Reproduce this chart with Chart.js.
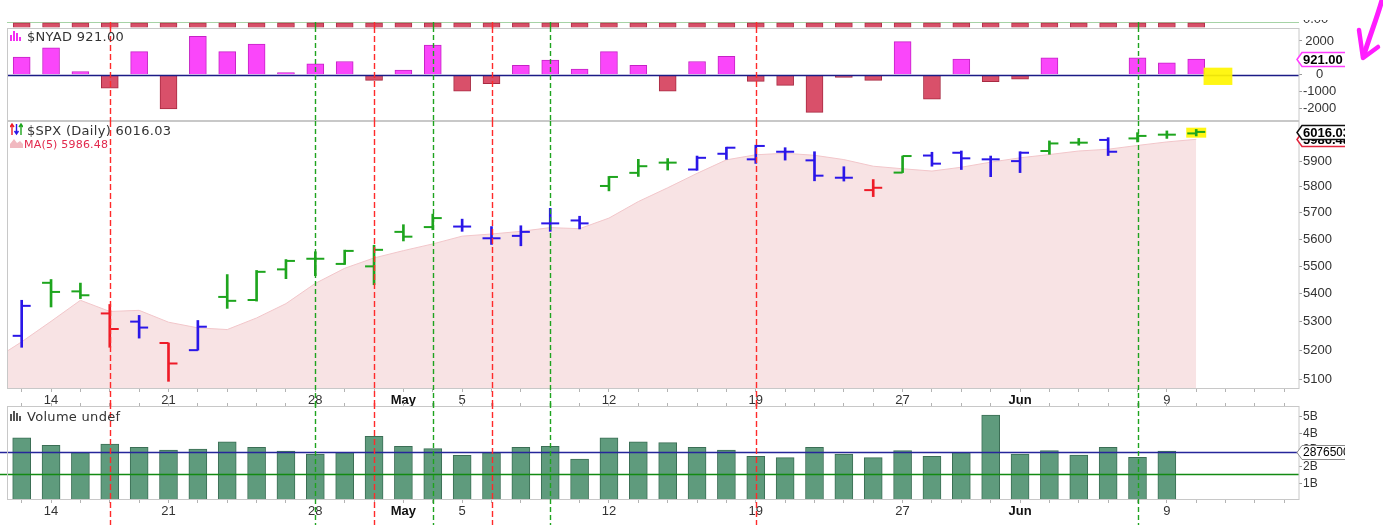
<!DOCTYPE html>
<html>
<head>
<meta charset="utf-8">
<title>$SPX (Daily) with $NYAD and Volume</title>
<script src="https://cdn.jsdelivr.net/npm/chart.js@4.4.1/dist/chart.umd.min.js"></script>
<style>
html, body { margin: 0; padding: 0; background: #fff; }
#page { position: relative; width: 1383px; height: 525px; overflow: hidden; background: #fff; }
#page canvas { position: absolute; left: 0; }
.legend { position: absolute; left: 27px; font: 13px "DejaVu Sans", Verdana, sans-serif; letter-spacing: 0.3px; color: #333; white-space: nowrap; line-height: 15px; }
.icon { position: absolute; }
</style>
</head>
<body>
<div id="page">
  <canvas id="upperChart" width="1345" height="6" style="top:22px"></canvas>
  <canvas id="nyadChart" width="1345" height="95" style="top:27px"></canvas>
  <canvas id="spxChart" width="1345" height="286" style="top:121px"></canvas>
  <canvas id="volChart" width="1345" height="122" style="top:403px"></canvas>

  <!-- clipped label of the panel above -->
  <div style="position:absolute;left:1303px;top:20px;width:42px;height:5px;overflow:hidden">
    <div style="position:absolute;top:-9px;font:13px 'Liberation Sans',Arial,sans-serif;color:#333">0.00</div>
  </div>

  <svg class="icon" style="left:10px;top:31px" width="11" height="10">
    <rect x="0" y="4" width="2" height="6" fill="#f22ef2"/>
    <rect x="3" y="0" width="2" height="10" fill="#f22ef2"/>
    <rect x="6" y="2" width="2" height="8" fill="#f22ef2"/>
    <rect x="9" y="6" width="2" height="4" fill="#f22ef2"/>
  </svg>
  <div class="legend" style="top:29px">$NYAD 921.00</div>

  <svg class="icon" style="left:10px;top:123px" width="13" height="13">
    <path d="M2 12 V2 M0 4 L2 1 L4 4" stroke="#ee1b27" stroke-width="1.4" fill="none"/>
    <path d="M6.5 1 V11 M4.5 8 L6.5 11 L8.5 8" stroke="#2a16e8" stroke-width="1.4" fill="none"/>
    <path d="M11 12 V2 M9 4 L11 1 L13 4" stroke="#1ea51e" stroke-width="1.4" fill="none"/>
  </svg>
  <div class="legend" style="top:123px">$SPX (Daily) 6016.03</div>

  <svg class="icon" style="left:10px;top:138px" width="13" height="10">
    <path d="M0 10 L0 6 L4 1 L7 5 L10 3 L13 6 L13 10 Z" fill="#f1b9c0"/>
  </svg>
  <div class="legend" style="left:24px;top:137px;font-size:11px;letter-spacing:0.2px;color:#e2284c">MA(5) 5986.48</div>

  <svg class="icon" style="left:10px;top:411px" width="11" height="10">
    <rect x="0" y="3" width="2" height="7" fill="#555"/>
    <rect x="3" y="0" width="2" height="10" fill="#555"/>
    <rect x="6" y="2" width="2" height="8" fill="#555"/>
    <rect x="9" y="5" width="2" height="5" fill="#555"/>
  </svg>
  <div class="legend" style="top:409px">Volume undef</div>

  <svg style="position:absolute;left:0;top:0" width="1383" height="525">
    <path d="M1382 0 C1377 18 1369 38 1364 55" stroke="#ff1cff" stroke-width="5" fill="none" stroke-linecap="round"/>
    <path d="M1359 30 L1363 58 L1378 47" stroke="#ff1cff" stroke-width="4.5" fill="none" stroke-linejoin="round" stroke-linecap="round"/>
  </svg>
</div>

<script>
// sessions shown, 11 Apr .. 10 Jun 2025
const sessions = ['Apr 11','Apr 14','Apr 15','Apr 16','Apr 17','Apr 21','Apr 22','Apr 23','Apr 24','Apr 25',
  'Apr 28','Apr 29','Apr 30','May 1','May 2','May 5','May 6','May 7','May 8','May 9',
  'May 12','May 13','May 14','May 15','May 16','May 19','May 20','May 21','May 22','May 23',
  'May 27','May 28','May 29','May 30','Jun 2','Jun 3','Jun 4','Jun 5','Jun 6','Jun 9','Jun 10'];

// $SPX daily OHLC
const opens  = [5251,5440,5409,5330,5301,5226,5201,5389,5378,5489,5528,5509,5500,5628,5646,5648,5604,5613,5660,5671,
  5803,5854,5894,5867,5929,5907,5937,5903,5835,5787,5855,5922,5933,5907,5900,5940,5973,5984,5990,6005,6010];
const highs  = [5377,5452,5439,5362,5323,5226,5305,5470,5485,5525,5554,5560,5578,5655,5695,5676,5648,5651,5717,5687,
  5840,5907,5910,5920,5955,5963,5953,5937,5878,5828,5920,5935,5940,5920,5937,5980,5990,5993,6013,6020,6026];
const lows   = [5211,5353,5383,5211,5243,5094,5201,5348,5374,5455,5466,5507,5433,5594,5636,5630,5581,5576,5630,5639,
  5784,5840,5865,5864,5907,5891,5904,5823,5822,5762,5855,5880,5867,5839,5855,5927,5963,5922,5976,5990,6000];
const closes = [5357,5407,5395,5275,5280,5155,5283,5375,5480,5520,5528,5557,5561,5610,5680,5648,5604,5628,5660,5660,
  5838,5880,5894,5913,5953,5960,5937,5843,5835,5796,5920,5890,5911,5907,5933,5970,5973,5937,6000,6005,6016.03];
// bar colouring (g = green, b = blue, r = red)
const barTone = ['b','g','g','r','b','r','b','g','g','g','g','g','g','g','g','b','b','b','b','b',
  'g','g','g','b','b','b','b','b','b','r','g','b','b','b','b','g','g','b','g','g','g'];

// MA(5), first value belongs to the session before the window
const ma5 = [5165,5230,5302,5377,5337,5341,5299,5279,5273,5314,5365,5438,5493,5531,5558,5583,5612,5620,5630,5644,5640,
  5680,5743,5796,5852,5905,5925,5931,5923,5906,5880,5870,5861,5876,5896,5913,5926,5940,5947,5962,5976,5986.48];

// $NYAD (advance - decline), no bar on Jun 4 / Jun 5
const nyad = [1050,1590,190,-800,1370,-2040,2280,1370,1820,130,640,780,-340,270,1750,-980,-540,560,860,330,
  1370,560,-980,780,1090,-400,-640,-2240,-170,-340,1960,-1450,920,-420,-270,1000,null,null,1000,700,921];

// volume in billions (no bar yet for the last session)
const volume = [3.75,3.29,2.85,3.37,3.17,3.01,3.07,3.51,3.17,2.95,2.77,2.85,3.84,3.23,3.09,2.69,2.85,3.17,3.23,2.47,
  3.75,3.51,3.45,3.17,3.01,2.63,2.55,3.17,2.77,2.55,2.97,2.63,2.85,5.12,2.77,2.97,2.71,3.17,2.57,2.95];
const volAverage = 2.8765;
const volLower = 1.55;

// clipped indicator strip at the very top
const upperPanel = [1,1,1,1,1,1,1,1,1,1,1,1,1,1,1,1,1,1,1,1,1,1,1,1,1,1,1,1,1,1,1,1,1,1,1,1,1,1,1,1,1];

// axis ticks
const priceTicks = [5100,5200,5300,5400,5500,5600,5700,5800,5900,6000];
const nyadTicks = [-2000,-1000,0,1000,2000];
const volTicks = [1,2,3,4,5];
const tickIdx  = [1,5,10,13,15,20,25,30,34,39];
const tickText = ['14','21','28','May','5','12','19','27','Jun','9'];

// hand drawn marker lines
const eventIdx  = [3,10,12,14,16,18,25,38];
const eventKind = ['r','g','r','g','r','g','r','g'];

const TONES = { g: '#1ea51e', b: '#2a16e8', r: '#ee1b27' };
const TICK_OFF = 0.153;   // open / close tick offset, in bar slots
const AXIS_W = 46;
const FONT = '"Liberation Sans", Arial, sans-serif';

Chart.defaults.font.family = FONT;
Chart.defaults.font.size = 13;
Chart.defaults.color = '#333';
Chart.defaults.animation = false;
Chart.defaults.events = [];
Chart.defaults.layout.autoPadding = false;
Chart.defaults.plugins.legend.display = false;
Chart.defaults.plugins.tooltip.enabled = false;

function slotTicks(scale) {
    const t = [];
    for (let i = 0; i <= 43; i++) t.push({ value: i });
    scale.ticks = t;
}

function dayAxis(display, position, showLabels, height) {
    return {
        type: 'linear', min: -0.5, max: 43.5, bounds: 'data', offset: false,
        display: display, position: position,
        afterBuildTicks: slotTicks,
        afterFit: function (s) { s.height = height; s.paddingLeft = 0; s.paddingRight = 0; },
        grid: { drawOnChartArea: false, drawTicks: true, tickLength: 3, color: '#b4b4b4', offset: false },
        border: { display: false },
        ticks: {
            display: showLabels, autoSkip: false, maxRotation: 0, minRotation: 0, padding: 1,
            callback: function (v) { const k = tickIdx.indexOf(v); return k < 0 ? '' : tickText[k]; },
            font: function (c) {
                const month = c.tick && /[A-Za-z]/.test(c.tick.label);
                return { family: FONT, size: 13, weight: month ? 'bold' : 'normal' };
            },
            color: function (c) { return (c.tick && /[A-Za-z]/.test(c.tick.label)) ? '#111' : '#333'; }
        }
    };
}

function rightAxis(extra) {
    return Object.assign({
        position: 'right', bounds: 'data', beginAtZero: false,
        afterFit: function (s) { s.width = AXIS_W; s.paddingTop = 0; s.paddingBottom = 0; },
        grid: { drawOnChartArea: false, drawTicks: true, tickLength: 3, color: '#9a9a9a' },
        border: { display: false }
    }, extra);
}

// panel frame
const frame = {
    id: 'frame',
    afterDraw(chart) {
        const a = chart.chartArea, ctx = chart.ctx;
        const l = Math.round(a.left) + 0.5, t = Math.round(a.top) + 0.5;
        ctx.save();
        ctx.strokeStyle = '#c8c8c8';
        ctx.lineWidth = 1;
        ctx.strokeRect(l, t, Math.round(a.right) - l, Math.round(a.bottom) - t - 0.5);
        ctx.restore();
    }
};

// horizontal reference lines
function levels(under, over) {
    function draw(chart, list) {
        const a = chart.chartArea, ctx = chart.ctx, ys = chart.scales.y;
        list.forEach(function (l) {
            const py = Math.round(ys.getPixelForValue(l.value)) + 0.5;
            ctx.save();
            ctx.strokeStyle = l.color;
            ctx.lineWidth = l.width;
            ctx.beginPath();
            ctx.moveTo(l.full ? 0 : a.left, py);
            ctx.lineTo(a.right, py);
            ctx.stroke();
            ctx.restore();
        });
    }
    return {
        id: 'levels',
        beforeDatasetsDraw(chart) { draw(chart, under); },
        afterDatasetsDraw(chart) { draw(chart, over); }
    };
}

// yellow marker boxes
function marks(boxes, before) {
    function draw(chart) {
        const ctx = chart.ctx, xs = chart.scales.x, ys = chart.scales.y;
        ctx.save();
        ctx.fillStyle = 'rgba(255,245,0,0.92)';
        boxes.forEach(function (b) {
            const x0 = xs.getPixelForValue(b[0]), x1 = xs.getPixelForValue(b[1]);
            const y0 = ys.getPixelForValue(b[2]), y1 = ys.getPixelForValue(b[3]);
            ctx.fillRect(x0, y0, x1 - x0, y1 - y0);
        });
        ctx.restore();
    }
    return before ? { id: 'marks', beforeDatasetsDraw: draw } : { id: 'marks', afterDatasetsDraw: draw };
}

// value tags on the right axis
function tags(list) {
    return {
        id: 'tags',
        afterDraw(chart) {
            const ctx = chart.ctx, a = chart.chartArea, ys = chart.scales.y;
            list.forEach(function (t) {
                const y = Math.round(ys.getPixelForValue(t.value)) + 0.5;
                const h = t.half, x0 = a.right - 2, x1 = a.right + 3, x2 = chart.width + 4;
                ctx.save();
                ctx.beginPath();
                ctx.moveTo(x0, y);
                ctx.lineTo(x1, y - h);
                ctx.lineTo(x2, y - h);
                ctx.lineTo(x2, y + h);
                ctx.lineTo(x1, y + h);
                ctx.closePath();
                ctx.fillStyle = '#fff';
                ctx.fill();
                ctx.strokeStyle = t.color;
                ctx.lineWidth = t.lw;
                ctx.stroke();
                ctx.fillStyle = '#000';
                ctx.font = t.font;
                ctx.textAlign = 'left';
                ctx.textBaseline = 'middle';
                ctx.fillText(t.text, a.right + 4, y + 0.5);
                ctx.restore();
            });
        }
    };
}

// dashed vertical marker lines through every panel
const eventLines = {
    id: 'eventLines',
    afterDraw(chart) {
        const ctx = chart.ctx, xs = chart.scales.x;
        ctx.save();
        ctx.lineWidth = 1.4;
        eventIdx.forEach(function (idx, k) {
            const px = Math.round(xs.getPixelForValue(idx)) + 0.5;
            const red = eventKind[k] === 'r';
            ctx.strokeStyle = red ? '#ff2a2a' : '#1ea31e';
            ctx.setLineDash(red ? [6, 3] : [5, 3]);
            ctx.beginPath();
            ctx.moveTo(px, 0);
            ctx.lineTo(px, chart.height);
            ctx.stroke();
        });
        ctx.restore();
    }
};

function hiddenX() {
    return { type: 'linear', min: -0.5, max: 43.5, bounds: 'data', offset: false, display: false };
}

// top strip (bottom edge of the panel above)
new Chart(document.getElementById('upperChart'), {
    type: 'bar',
    data: {
        datasets: [{
            data: upperPanel.map(function (v, i) { return { x: i, y: v }; }),
            backgroundColor: '#d84f67',
            borderColor: '#b0304a',
            borderWidth: 1,
            borderSkipped: false,
            barThickness: 17
        }]
    },
    options: {
        responsive: false,
        layout: { padding: { left: 7, right: AXIS_W, top: 0, bottom: 0.5 } },
        scales: {
            x: hiddenX(),
            y: { display: false, min: 0, max: 1.2 }
        }
    },
    plugins: [levels([{ value: 1.1, color: '#a6d3a6', width: 1 }], []), eventLines]
});

// $NYAD panel
new Chart(document.getElementById('nyadChart'), {
    type: 'bar',
    data: {
        datasets: [{
            data: nyad.map(function (v, i) { return { x: i, y: v }; }),
            backgroundColor: nyad.map(function (v) { return v < 0 ? '#d9506a' : '#fa46fa'; }),
            borderColor: nyad.map(function (v) { return v < 0 ? '#a82a42' : '#c522c5'; }),
            borderWidth: 1,
            barThickness: 17
        }]
    },
    options: {
        responsive: false,
        layout: { padding: { left: 7, top: 1, bottom: 1 } },
        scales: {
            x: hiddenX(),
            y: rightAxis({
                type: 'linear', min: -2750, max: 2770,
                afterBuildTicks: function (s) { s.ticks = nyadTicks.map(function (v) { return { value: v }; }); },
                ticks: { padding: 1, crossAlign: 'center', font: { size: 13 }, callback: function (v) { return String(v); } }
            })
        }
    },
    plugins: [frame,
        levels([], [{ value: 0, color: '#1b1b86', width: 1.5 }]),
        marks([[40.25, 41.23, 415, -611]], false),
        eventLines,
        tags([{ value: 921, text: '921.00', color: '#ff3cff', lw: 1.5, half: 7, font: 'bold 13px ' + FONT }])]
});

// $SPX price panel
const toneOf = barTone.map(function (t) { return TONES[t]; });
new Chart(document.getElementById('spxChart'), {
    type: 'bar',
    data: {
        datasets: [
            {
                type: 'bar',
                data: highs.map(function (h, i) { return { x: i, y: [lows[i], h] }; }),
                backgroundColor: toneOf,
                borderWidth: 0,
                barThickness: 2,
                order: 1
            },
            {
                type: 'scatter',
                data: opens.map(function (o, i) { return { x: i - TICK_OFF, y: o }; }),
                pointStyle: 'line',
                pointRadius: 4.5,
                pointBorderWidth: 2,
                pointBorderColor: toneOf,
                order: 0
            },
            {
                type: 'scatter',
                data: closes.map(function (c, i) { return { x: i + TICK_OFF, y: c }; }),
                pointStyle: 'line',
                pointRadius: 4.5,
                pointBorderWidth: 2,
                pointBorderColor: toneOf,
                order: 0
            },
            {
                type: 'line',
                data: ma5.map(function (v, i) { return { x: i - 1, y: v }; }),
                borderColor: '#f2c6ca',
                borderWidth: 1,
                backgroundColor: '#f8e3e4',
                fill: 'start',
                pointRadius: 0,
                tension: 0,
                order: 10
            }
        ]
    },
    options: {
        responsive: false,
        layout: { autoPadding: false, padding: { left: 7, top: 0 } },
        scales: {
            x: dayAxis(true, 'bottom', true, 18),
            y: rightAxis({
                type: 'logarithmic', min: 5068, max: 6060,
                afterBuildTicks: function (s) { s.ticks = priceTicks.map(function (v) { return { value: v }; }); },
                ticks: { padding: 1, crossAlign: 'near', font: { size: 13 }, callback: function (v) { return String(v); } }
            })
        }
    },
    plugins: [frame,
        marks([[39.66, 40.34, 6033, 5993]], true),
        eventLines,
        tags([
            { value: 5986.48, text: '5986.48', color: '#e2243c', lw: 1.5, half: 7, font: 'bold 13px ' + FONT },
            { value: 6016.03, text: '6016.03', color: '#111', lw: 1.5, half: 7, font: 'bold 13px ' + FONT }
        ])]
});

// volume panel
new Chart(document.getElementById('volChart'), {
    type: 'bar',
    data: {
        datasets: [{
            data: volume.map(function (v, i) { return { x: i, y: v }; }),
            backgroundColor: '#5f9b7d',
            borderColor: '#3b6e55',
            borderWidth: 1,
            barThickness: 18
        }]
    },
    options: {
        responsive: false,
        layout: { padding: { left: 7 } },
        scales: {
            x: dayAxis(true, 'bottom', true, 25),
            x2: dayAxis(true, 'top', false, 3),
            y: rightAxis({
                type: 'linear', min: 0, max: 5.66,
                afterBuildTicks: function (s) { s.ticks = volTicks.map(function (v) { return { value: v }; }); },
                ticks: { padding: 1, crossAlign: 'near', font: { size: 12 }, callback: function (v) { return v + 'B'; } }
            })
        }
    },
    plugins: [frame,
        levels([], [{ value: volAverage, color: '#26269a', width: 1.3, full: true },
                    { value: volLower, color: '#138a13', width: 1.3, full: true }]),
        eventLines,
        tags([{ value: volAverage, text: '2876500000', color: '#8a8a8a', lw: 1, half: 7, font: '12px ' + FONT }])]
});
</script>
</body>
</html>
